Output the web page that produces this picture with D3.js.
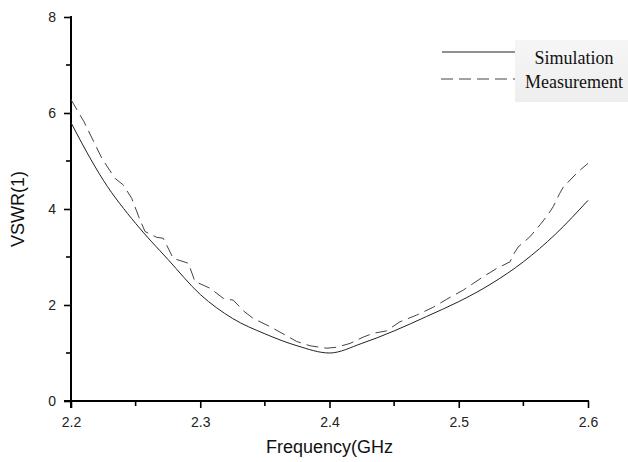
<!DOCTYPE html>
<html>
<head>
<meta charset="utf-8">
<script src="https://cdn.jsdelivr.net/npm/d3@7"></script>
<style>
  html, body { margin: 0; padding: 0; background: #fff; }
  svg { display: block; }
</style>
</head>
<body>
<svg id="chart" width="628" height="462"></svg>
<script>
// ---- data ----
const xTicks = [2.2, 2.3, 2.4, 2.5, 2.6];
const yTicks = [0, 2, 4, 6, 8];
const xMinor = [2.25, 2.35, 2.45, 2.55];
const yMinor = [1, 3, 5, 7];
const seriesNames = ["Simulation", "Measurement"];

const simFreq = [2.2, 2.2125, 2.225, 2.25, 2.275, 2.3, 2.325, 2.35, 2.375, 2.4, 2.425, 2.45, 2.475, 2.5, 2.525, 2.55, 2.575, 2.6];
const simVSWR = [5.80, 5.17, 4.60, 3.70, 2.95, 2.22, 1.72, 1.40, 1.15, 1.00, 1.20, 1.46, 1.76, 2.07, 2.44, 2.90, 3.48, 4.18];

const measFreq = [2.2, 2.21, 2.224, 2.234, 2.2405, 2.247, 2.2534, 2.2573, 2.2663, 2.2714, 2.2791, 2.2908, 2.2959, 2.3075, 2.3178, 2.3256, 2.3333, 2.341, 2.354, 2.364, 2.3746, 2.385, 2.398, 2.4056, 2.4159, 2.426, 2.4338, 2.444, 2.4545, 2.4674, 2.48, 2.4907, 2.5035, 2.519, 2.5293, 2.5397, 2.542, 2.546, 2.555, 2.5629, 2.569, 2.5731, 2.578, 2.581, 2.5925, 2.6];
const measVSWR = [6.28, 5.82, 5.05, 4.64, 4.50, 4.22, 3.77, 3.53, 3.41, 3.39, 2.97, 2.87, 2.49, 2.35, 2.14, 2.10, 1.88, 1.72, 1.55, 1.40, 1.24, 1.15, 1.10, 1.12, 1.20, 1.33, 1.41, 1.46, 1.65, 1.79, 1.95, 2.12, 2.31, 2.59, 2.76, 2.90, 3.04, 3.21, 3.42, 3.67, 3.88, 4.05, 4.32, 4.46, 4.78, 4.95];

// ---- layout ----
const W = 628, H = 462;
const margin = { left: 71, right: 40, top: 17, bottom: 61 };
const svg = d3.select("#chart");

const x = d3.scaleLinear().domain([2.2, 2.6]).range([margin.left, W - margin.right]);
const y = d3.scaleLinear().domain([0, 8]).range([H - margin.bottom, margin.top]);

const axisColor = "#000";
const tickFont = "Liberation Sans, Arial, sans-serif";

// X axis (major ticks + labels from d3 axis)
const gx = svg.append("g").attr("transform", `translate(0,${y(0)})`);
gx.call(d3.axisBottom(x).tickValues(xTicks).tickFormat(d3.format(".1f"))
  .tickSize(7).tickSizeOuter(0).tickPadding(9));
gx.selectAll(".minor").data(xMinor).join("line").attr("class", "minor")
  .attr("x1", d => x(d)).attr("x2", d => x(d)).attr("y1", 0).attr("y2", 5)
  .attr("stroke", axisColor).attr("stroke-width", 1.6);

// Y axis
const gy = svg.append("g").attr("transform", `translate(${x(2.2)},0)`);
gy.call(d3.axisLeft(y).tickValues(yTicks).tickSize(7).tickSizeOuter(0).tickPadding(8));
gy.selectAll(".minor").data(yMinor).join("line").attr("class", "minor")
  .attr("x1", 0).attr("x2", -5).attr("y1", d => y(d)).attr("y2", d => y(d))
  .attr("stroke", axisColor).attr("stroke-width", 1.6);

[gx, gy].forEach(g => {
  g.select(".domain").attr("stroke", axisColor).attr("stroke-width", 2);
  g.selectAll(".tick line").attr("stroke", axisColor).attr("stroke-width", 1.6);
  g.selectAll(".tick text").attr("font-family", tickFont)
    .attr("font-size", 14).attr("fill", "#222");
});
gx.select(".domain").attr("d", `M${x(2.2) - 7},0H${x(2.6) + 1}`);
gy.select(".domain").attr("d", `M0,${y(8) - 1}V${y(0) + 7}`);

// axis titles
svg.append("text")
  .attr("x", (x(2.2) + x(2.6)) / 2).attr("y", 453)
  .attr("text-anchor", "middle")
  .attr("font-family", tickFont).attr("font-size", 18).attr("fill", "#111")
  .text("Frequency(GHz");
svg.append("text")
  .attr("transform", `translate(24,${(y(0) + y(8)) / 2}) rotate(-90)`)
  .attr("text-anchor", "middle")
  .attr("font-family", tickFont).attr("font-size", 18).attr("fill", "#111")
  .text("VSWR(1)");

// lines
const simData = simFreq.map((f, i) => [f, simVSWR[i]]);
const measData = measFreq.map((f, i) => [f, measVSWR[i]]);

svg.append("path").datum(simData)
  .attr("fill", "none").attr("stroke", "#222").attr("stroke-width", 1)
  .attr("d", d3.line().x(d => x(d[0])).y(d => y(d[1])).curve(d3.curveMonotoneX));

svg.append("path").datum(measData)
  .attr("fill", "none").attr("stroke", "#444").attr("stroke-width", 1)
  .attr("stroke-dasharray", "12,6")
  .attr("d", d3.line().x(d => x(d[0])).y(d => y(d[1])));

// legend
const defs = svg.append("defs");
const grad = defs.append("linearGradient").attr("id", "lg").attr("x1", 0).attr("y1", 0).attr("x2", 0).attr("y2", 1);
grad.append("stop").attr("offset", "0%").attr("stop-color", "#f6f6f6");
grad.append("stop").attr("offset", "100%").attr("stop-color", "#eeeeee");

const leg = svg.append("g");
leg.append("rect").attr("x", 515).attr("y", 40).attr("width", 113).attr("height", 62).attr("fill", "url(#lg)");
const legY = [52, 79];
const legText = [64, 88];
leg.append("line").attr("x1", 442).attr("x2", 515).attr("y1", legY[0]).attr("y2", legY[0])
  .attr("stroke", "#222").attr("stroke-width", 1);
leg.append("line").attr("x1", 441).attr("x2", 515).attr("y1", legY[1]).attr("y2", legY[1])
  .attr("stroke", "#444").attr("stroke-width", 1).attr("stroke-dasharray", "12,6");
seriesNames.forEach((n, i) => {
  leg.append("text").attr("x", 574).attr("y", legText[i]).attr("text-anchor", "middle")
    .attr("font-family", "Liberation Serif, Times New Roman, serif").attr("font-size", 18).attr("fill", "#111")
    .text(n);
});
</script>
</body>
</html>
